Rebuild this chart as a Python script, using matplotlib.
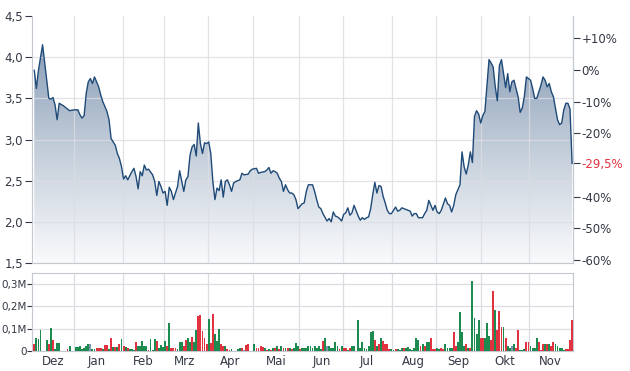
import numpy as np
import matplotlib.pyplot as plt
from matplotlib.colors import LinearSegmentedColormap

# closing prices, x = trading session index
session = [0, 1, 2, 4, 5, 6, 7, 8, 9, 10, 11, 12, 14, 16, 17, 19, 21, 22, 23, 24,
           25, 26, 27, 28, 29, 31, 32, 33, 34, 35, 36, 37, 39, 40, 41, 42, 43, 44, 45, 47,
           48, 49, 50, 51, 52, 53, 54, 55, 57, 58, 59, 60, 61, 62, 63, 64, 65, 66, 67, 68,
           69, 70, 72, 73, 74, 75, 76, 77, 78, 79, 80, 81, 82, 83, 84, 85, 86, 87, 88, 89,
           90, 91, 92, 93, 94, 95, 96, 97, 99, 100, 101, 103, 104, 105, 107, 108, 109, 111, 112, 113,
           114, 115, 116, 117, 118, 119, 120, 121, 122, 123, 124, 125, 126, 127, 129, 130, 131, 132, 134, 135,
           136, 137, 138, 139, 141, 142, 143, 144, 145, 146, 147, 148, 149, 150, 151, 152, 153, 154, 156, 157,
           158, 159, 160, 161, 162, 163, 164, 165, 166, 167, 168, 169, 170, 171, 172, 173, 174, 175, 176, 177,
           178, 179, 181, 182, 183, 184, 185, 186, 187, 188, 189, 190, 191, 192, 193, 194, 195, 196, 198, 199,
           200, 201, 202, 203, 204, 205, 206, 207, 208, 209, 210, 211, 212, 213, 214, 215, 216, 217, 218, 219,
           220, 221, 222, 223, 224, 225, 226, 227, 228, 229, 230, 231, 232, 233, 234, 235, 236, 237, 239, 240,
           241, 242, 243, 244, 245, 246, 247, 248, 249, 250, 251, 252, 253, 254, 255, 256, 257, 258, 259]
price = [3.84, 3.62, 3.84, 4.15, 3.94, 3.72, 3.50, 3.49, 3.51, 3.42, 3.24, 3.44, 3.41, 3.37, 3.35, 3.36, 3.36, 3.30, 3.26, 3.29,
         3.56, 3.70, 3.74, 3.68, 3.76, 3.64, 3.54, 3.46, 3.40, 3.34, 3.24, 3.01, 2.93, 2.83, 2.77, 2.67, 2.52, 2.56, 2.51, 2.61,
         2.65, 2.55, 2.40, 2.61, 2.56, 2.69, 2.63, 2.64, 2.57, 2.49, 2.32, 2.49, 2.43, 2.35, 2.37, 2.20, 2.42, 2.37, 2.27, 2.35,
         2.43, 2.62, 2.37, 2.51, 2.55, 2.81, 2.91, 2.94, 2.80, 3.20, 2.95, 2.83, 2.96, 2.95, 2.97, 2.83, 2.49, 2.27, 2.41, 2.38,
         2.51, 2.30, 2.49, 2.51, 2.45, 2.37, 2.47, 2.49, 2.51, 2.59, 2.57, 2.58, 2.62, 2.64, 2.65, 2.59, 2.60, 2.61, 2.63, 2.66,
         2.59, 2.62, 2.61, 2.59, 2.53, 2.49, 2.37, 2.45, 2.39, 2.35, 2.35, 2.33, 2.27, 2.16, 2.22, 2.23, 2.37, 2.45, 2.45, 2.37,
         2.27, 2.18, 2.16, 2.10, 2.01, 2.04, 2.00, 2.12, 2.07, 2.06, 2.04, 2.01, 2.09, 2.11, 2.17, 2.08, 2.11, 2.20, 2.07, 2.02,
         2.05, 2.03, 2.05, 2.06, 2.16, 2.33, 2.48, 2.35, 2.44, 2.43, 2.31, 2.23, 2.14, 2.10, 2.10, 2.14, 2.18, 2.13, 2.14, 2.17,
         2.16, 2.15, 2.13, 2.07, 2.10, 2.10, 2.05, 2.05, 2.05, 2.10, 2.14, 2.26, 2.20, 2.14, 2.20, 2.12, 2.10, 2.14, 2.29, 2.22,
         2.20, 2.12, 2.20, 2.33, 2.39, 2.45, 2.85, 2.67, 2.58, 2.69, 2.85, 2.72, 3.28, 3.35, 3.31, 3.20, 3.29, 3.34, 3.66, 3.97,
         3.93, 3.88, 3.64, 3.47, 3.90, 3.97, 3.80, 3.63, 3.80, 3.58, 3.70, 3.72, 3.62, 3.52, 3.33, 3.38, 3.52, 3.76, 3.72, 3.62,
         3.50, 3.50, 3.58, 3.66, 3.76, 3.72, 3.64, 3.68, 3.58, 3.52, 3.38, 3.24, 3.18, 3.20, 3.36, 3.44, 3.44, 3.37, 2.71]

# volume in thousands, g = up day, r = down day, n = unchanged
vol_session = [0, 1, 2, 3, 6, 7, 8, 9, 10, 11, 12, 16, 17, 20, 21, 22, 23, 24, 25, 26,
               27, 28, 29, 30, 31, 32, 33, 34, 35, 36, 37, 38, 39, 40, 41, 42, 43, 44, 45, 46,
               47, 48, 49, 50, 51, 52, 53, 54, 55, 56, 57, 58, 59, 60, 61, 62, 63, 64, 65, 66,
               67, 68, 69, 70, 71, 72, 73, 74, 75, 76, 77, 78, 79, 80, 81, 82, 83, 84, 85, 86,
               87, 88, 89, 90, 91, 92, 93, 94, 95, 98, 99, 100, 101, 102, 103, 106, 107, 108, 109, 110,
               111, 112, 113, 114, 115, 116, 117, 118, 119, 120, 121, 122, 123, 124, 125, 126, 127, 128, 129, 130,
               131, 132, 133, 134, 135, 136, 137, 138, 139, 140, 141, 142, 143, 144, 145, 146, 147, 148, 149, 150,
               151, 152, 153, 154, 156, 157, 158, 159, 160, 161, 162, 163, 164, 165, 166, 167, 168, 169, 170, 171,
               172, 173, 174, 175, 176, 177, 178, 179, 180, 181, 182, 183, 184, 185, 186, 187, 188, 189, 190, 191,
               192, 193, 194, 195, 196, 197, 198, 199, 200, 201, 202, 203, 204, 205, 206, 207, 208, 209, 210, 211,
               212, 213, 214, 215, 216, 217, 218, 219, 220, 221, 222, 223, 224, 225, 226, 227, 228, 229, 230, 231,
               232, 233, 234, 235, 236, 237, 238, 239, 240, 241, 242, 243, 244, 245, 246, 247, 248, 249, 250, 251,
               252, 253, 254, 255, 256, 257, 258, 259]
vol_k = [30, 60, 52, 93, 48, 30, 102, 48, 10, 34, 34, 9, 21, 16, 16, 21, 9, 15, 24, 30,
         33, 10, 10, 12, 12, 12, 9, 25, 28, 9, 57, 16, 16, 16, 33, 52, 24, 18, 12, 10,
         7, 6, 39, 21, 21, 43, 21, 21, 6, 52, 6, 52, 43, 12, 25, 18, 43, 24, 124, 15,
         15, 15, 9, 39, 39, 21, 48, 57, 39, 63, 42, 93, 156, 160, 88, 57, 33, 142, 34, 165,
         75, 43, 97, 30, 24, 21, 9, 6, 9, 9, 15, 15, 3, 25, 33, 30, 15, 12, 21, 18,
         12, 3, 9, 3, 15, 15, 24, 9, 21, 15, 12, 12, 15, 9, 15, 34, 21, 9, 15, 15,
         12, 21, 21, 15, 21, 15, 21, 9, 44, 60, 21, 21, 15, 15, 39, 21, 9, 21, 12, 12,
         6, 12, 24, 24, 141, 15, 39, 15, 9, 21, 84, 90, 48, 24, 30, 57, 44, 30, 30, 9,
         9, 6, 9, 9, 6, 12, 12, 15, 18, 9, 6, 12, 57, 48, 24, 33, 24, 39, 39, 60,
         9, 9, 12, 9, 15, 9, 33, 15, 15, 12, 84, 21, 39, 174, 84, 21, 30, 15, 12, 315,
         147, 75, 138, 57, 57, 57, 126, 66, 51, 270, 183, 93, 180, 108, 108, 60, 24, 15, 24, 30,
         15, 93, 6, 6, 9, 39, 39, 24, 15, 15, 57, 42, 6, 30, 30, 30, 30, 24, 39, 30,
         21, 15, 12, 6, 9, 9, 48, 138]
vol_dir = list("rgggg" "rgrgg" "grggg" "ggggg"
               "nggrr" "rgrrg" "rgrgr" "grgrg"
               "ggrgg" "gggrg" "ggrgg" "ggrgr"
               "rrggg" "rrggr" "ggrrr" "rrgrr"
               "gggrr" "grrgg" "grnrr" "grrrr"
               "grgrg" "rgrgr" "grgrg" "ggrgg"
               "ggggg" "gggrg" "ngggg" "grgrr"
               "grggg" "ggggg" "ggrgr" "grrrr"
               "ggrgg" "grggg" "ggggr" "grggr"
               "rrggr" "rgggg" "rrggg" "grgrg"
               "gggrr" "gggrr" "grrrg" "rggn"
               "grrgg" "grrgg" "ggrrr" "grgrr"
               "ggggg" "rrr")

ref_price = 3.844  # 0% level of the right scale
last_change = -29.5

# session positions of month boundaries and of month label centres
month_start = [19.1, 42.7, 62.5, 83.7, 105.3, 127.4, 148.6, 172.2, 193.4, 215.1, 238.2]
month_label_pos = [9.0, 30.1, 52.5, 72.6, 94.2, 116.7, 138.4, 160.3, 182.5, 204.2, 226.6, 248.3]
month_labels = ["Dez", "Jan", "Feb", "Mrz", "Apr", "Mai", "Jun", "Jul", "Aug", "Sep", "Okt", "Nov"]

price_ticks = [1.5, 2.0, 2.5, 3.0, 3.5, 4.0, 4.5]
pct_ticks = [10, 0, -10, -20, last_change, -40, -50, -60]
vol_ticks = [0, 100, 200, 300]
vol_tick_labels = ["0", "0,1M", "0,2M", "0,3M"]

text_col = "#333844"
grid_col = "#dcdde2"
spine_col = "#c4c8d0"
line_col = "#1f4a78"
red = "#e2323f"
bar_cols = {"g": "#1d8a50", "r": "#e0323f", "n": "#7e96ab"}

plt.rcParams['font.family'] = ['DejaVu Sans']
plt.rcParams['font.size'] = 8.5

fig = plt.figure(figsize=(6.3, 3.71), dpi=100)
ax = fig.add_axes([32 / 630, 108 / 371, 540.5 / 630, 247 / 371])
axv = fig.add_axes([32 / 630, 20 / 371, 540.5 / 630, 78.3 / 371])

xlo, xhi = -1.1, 259.2

# ---- price panel
ax.set_xlim(xlo, xhi)
ax.set_ylim(1.5, 4.5)
cmap = LinearSegmentedColormap.from_list("fade", ["#8b9fb8", "#c5cfdb", "#f9fafc"])
grad = np.linspace(0, 1, 256).reshape(-1, 1)
img = ax.imshow(grad, extent=[xlo, xhi, 1.5, 4.15], aspect='auto', cmap=cmap,
                origin='upper', zorder=1)
poly = ax.fill_between(session, price, 1.5, facecolor='none', edgecolor='none')
img.set_clip_path(poly.get_paths()[0], transform=ax.transData)
ax.plot(session, price, color=line_col, lw=1.0, zorder=4, solid_joinstyle='round')

ax.set_yticks(price_ticks)
ax.set_yticklabels([("%.1f" % v).replace(".", ",") for v in price_ticks])
ax.set_xticks(month_start)
ax.set_xticklabels([])
ax.grid(True, color=grid_col, lw=0.9, alpha=0.8, zorder=2)
ax.set_axisbelow(False)
for gl in ax.yaxis.get_gridlines()[-1:]:
    gl.set_visible(False)
for l in ax.get_xgridlines() + ax.get_ygridlines():
    l.set_zorder(2)
ax.tick_params(axis='y', length=5, width=0.8, color=text_col, labelcolor=text_col, pad=1.5)
ax.tick_params(axis='x', length=0)
ax.spines['top'].set_visible(False)
for s in ['left', 'right', 'bottom']:
    ax.spines[s].set_color(spine_col)
    ax.spines[s].set_zorder(5)

sec = ax.secondary_yaxis('right', functions=(lambda p: (p / ref_price - 1) * 100,
                                             lambda q: ref_price * (1 + q / 100)))
sec.set_yticks(pct_ticks)
sec.set_yticklabels([("%+d%%" % v if v > 0 else ("%g%%" % v).replace(".", ",")) for v in pct_ticks])
sec.tick_params(length=5, width=0.8, color=text_col, labelcolor=text_col, pad=1.5)
sec.spines['right'].set_color(spine_col)
idx = pct_ticks.index(last_change)
sec.get_yticklabels()[idx].set_color(red)
t = sec.yaxis.get_major_ticks()[idx]
t.tick1line.set_color(red)
t.tick2line.set_color(red)

# ---- volume panel
axv.set_xlim(xlo, xhi)
axv.set_ylim(0, 351)
axv.bar(vol_session, vol_k, width=0.9, color=[bar_cols[c] for c in vol_dir],
        antialiased=False, zorder=3)
axv.set_yticks(vol_ticks)
axv.set_yticklabels(vol_tick_labels)
axv.set_xticks(month_start)
axv.set_xticklabels([])
axv.set_xticks(month_label_pos, minor=True)
axv.set_xticklabels(month_labels, minor=True)
axv.grid(True, which='major', color=grid_col, lw=0.9, zorder=0)
axv.tick_params(axis='y', length=3.5, width=0.8, color=text_col, labelcolor=text_col,
                labelsize=7.5, pad=0.5)
axv.tick_params(axis='x', which='both', length=0, labelcolor=text_col, labelsize=8.5, pad=3)
for s in axv.spines.values():
    s.set_color(spine_col)

fig.savefig("out.png", dpi=100)
